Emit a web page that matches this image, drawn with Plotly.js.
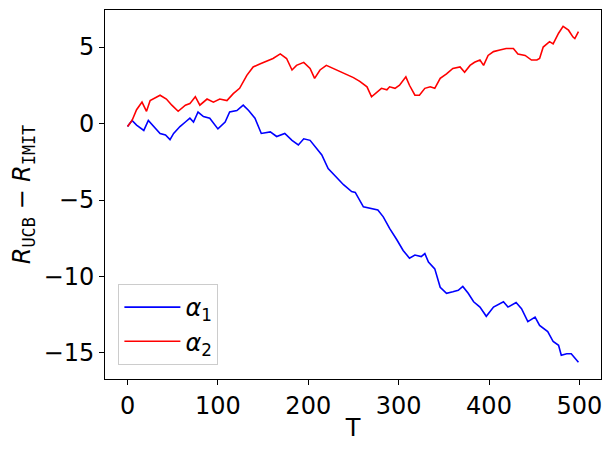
<!DOCTYPE html>
<html><head><meta charset="utf-8">
<script src="https://cdn.plot.ly/plotly-3.0.1.min.js"></script>
<style>body{margin:0;padding:0;background:#fff}#chart{width:612px;height:452px}</style>
</head><body><div id="chart"></div>
<script>
const redT = [0,5,10,16,21,25,36,43,49,56,64,69,75,80,88,95,102,110,117,124,132,139,147,154,161,169,176,182,187,195,202,207,213,220,228,235,242,250,257,265,270,276,281,287,290,296,301,308,312,318,323,329,335,340,346,353,360,368,373,379,384,390,394,399,405,412,419,427,432,440,447,453,456,460,467,471,477,482,488,493,495,499];
const redV = [-0.2,0.2,0.9,1.4,0.8,1.5,1.85,1.6,1.2,0.8,1.2,1.3,1.75,1.2,1.6,1.4,1.6,1.5,1.95,2.3,3.15,3.7,3.9,4.1,4.25,4.55,4.25,3.5,3.8,4.0,3.6,2.95,3.5,3.8,3.6,3.4,3.2,3.0,2.75,2.4,1.75,2.05,2.3,2.2,2.4,2.3,2.5,3.05,2.5,1.85,1.85,2.3,2.4,2.3,2.95,3.25,3.6,3.7,3.35,3.8,4.0,4.15,3.8,4.45,4.7,4.8,4.9,4.9,4.55,4.45,4.15,4.15,4.25,5.0,5.35,5.2,5.9,6.35,6.1,5.65,5.55,6.0];
const blueT = [0,5,10,18,23,29,36,42,47,51,58,64,69,73,78,84,91,100,108,113,121,128,134,141,148,158,165,174,182,189,195,202,209,215,222,231,239,248,252,261,270,277,283,290,298,305,312,318,325,329,333,340,346,353,360,366,371,377,383,390,397,405,416,421,430,436,443,451,456,465,471,477,480,486,491,499];
const blueV = [-0.2,0.2,-0.1,-0.45,0.2,-0.2,-0.65,-0.75,-1.05,-0.65,-0.2,0.1,0.35,0.1,0.75,0.45,0.35,-0.35,0.1,0.75,0.85,1.2,0.85,0.35,-0.65,-0.55,-0.85,-0.65,-1.1,-1.4,-1.0,-1.1,-1.6,-2.05,-2.95,-3.5,-4.0,-4.45,-4.5,-5.45,-5.55,-5.65,-6.1,-6.85,-7.6,-8.3,-8.8,-8.6,-8.7,-8.5,-9.05,-9.5,-10.7,-11.1,-11.0,-10.9,-10.65,-11.1,-11.65,-12.0,-12.6,-12.0,-11.65,-12.0,-11.7,-12.1,-12.95,-12.65,-13.2,-13.6,-14.25,-14.5,-15.15,-15.05,-15.05,-15.6];
const xTicks = [0,100,200,300,400,500];
const yTicks = [-15,-10,-5,0,5];

const FONT = 'DejaVu Sans, sans-serif';
const FS = 24;
const traces = [
  {x: blueT, y: blueV, mode: 'lines', name: '<i>α</i><sub>1</sub>', line: {color: '#0000ff', width: 1.6}},
  {x: redT, y: redV, mode: 'lines', name: '<i>α</i><sub>2</sub>', line: {color: '#ff0000', width: 1.6}}
];
const axisCommon = {showline: true, mirror: true, linecolor: '#000', linewidth: 1, ticks: 'outside', ticklen: 5, tickwidth: 1, tickcolor: '#000', showgrid: false, zeroline: false, tickfont: {family: FONT, size: FS, color: '#000'}};
const layout = {
  width: 612, height: 452,
  margin: {l: 105, r: 11, t: 10, b: 73},
  paper_bgcolor: '#fff', plot_bgcolor: '#fff',
  font: {family: FONT, color: '#000'},
  xaxis: Object.assign({}, axisCommon, {range: [-24.95, 523.95], tickvals: xTicks, ticktext: xTicks.map(String), title: {text: 'T', font: {family: FONT, size: FS}, standoff: 0}}),
  yaxis: Object.assign({}, axisCommon, {range: [-16.7, 7.42], tickvals: yTicks, title: {text: '<i>R</i><sub><span style="font-family:DejaVu Sans Mono">UCB</span></sub> − <i>R</i><sub><span style="font-family:DejaVu Sans Mono">IMIT</span></sub>', font: {family: FONT, size: FS}, standoff: 6}}),
  legend: {x: 0.027, y: 0.038, xanchor: 'left', yanchor: 'bottom', bgcolor: 'rgba(255,255,255,0.8)', bordercolor: '#cccccc', borderwidth: 1, font: {family: FONT, size: FS}, tracegroupgap: 4, itemwidth: 56},
  showlegend: true
};
Plotly.newPlot('chart', traces, layout, {displayModeBar: false, staticPlot: true});
</script></body></html>
